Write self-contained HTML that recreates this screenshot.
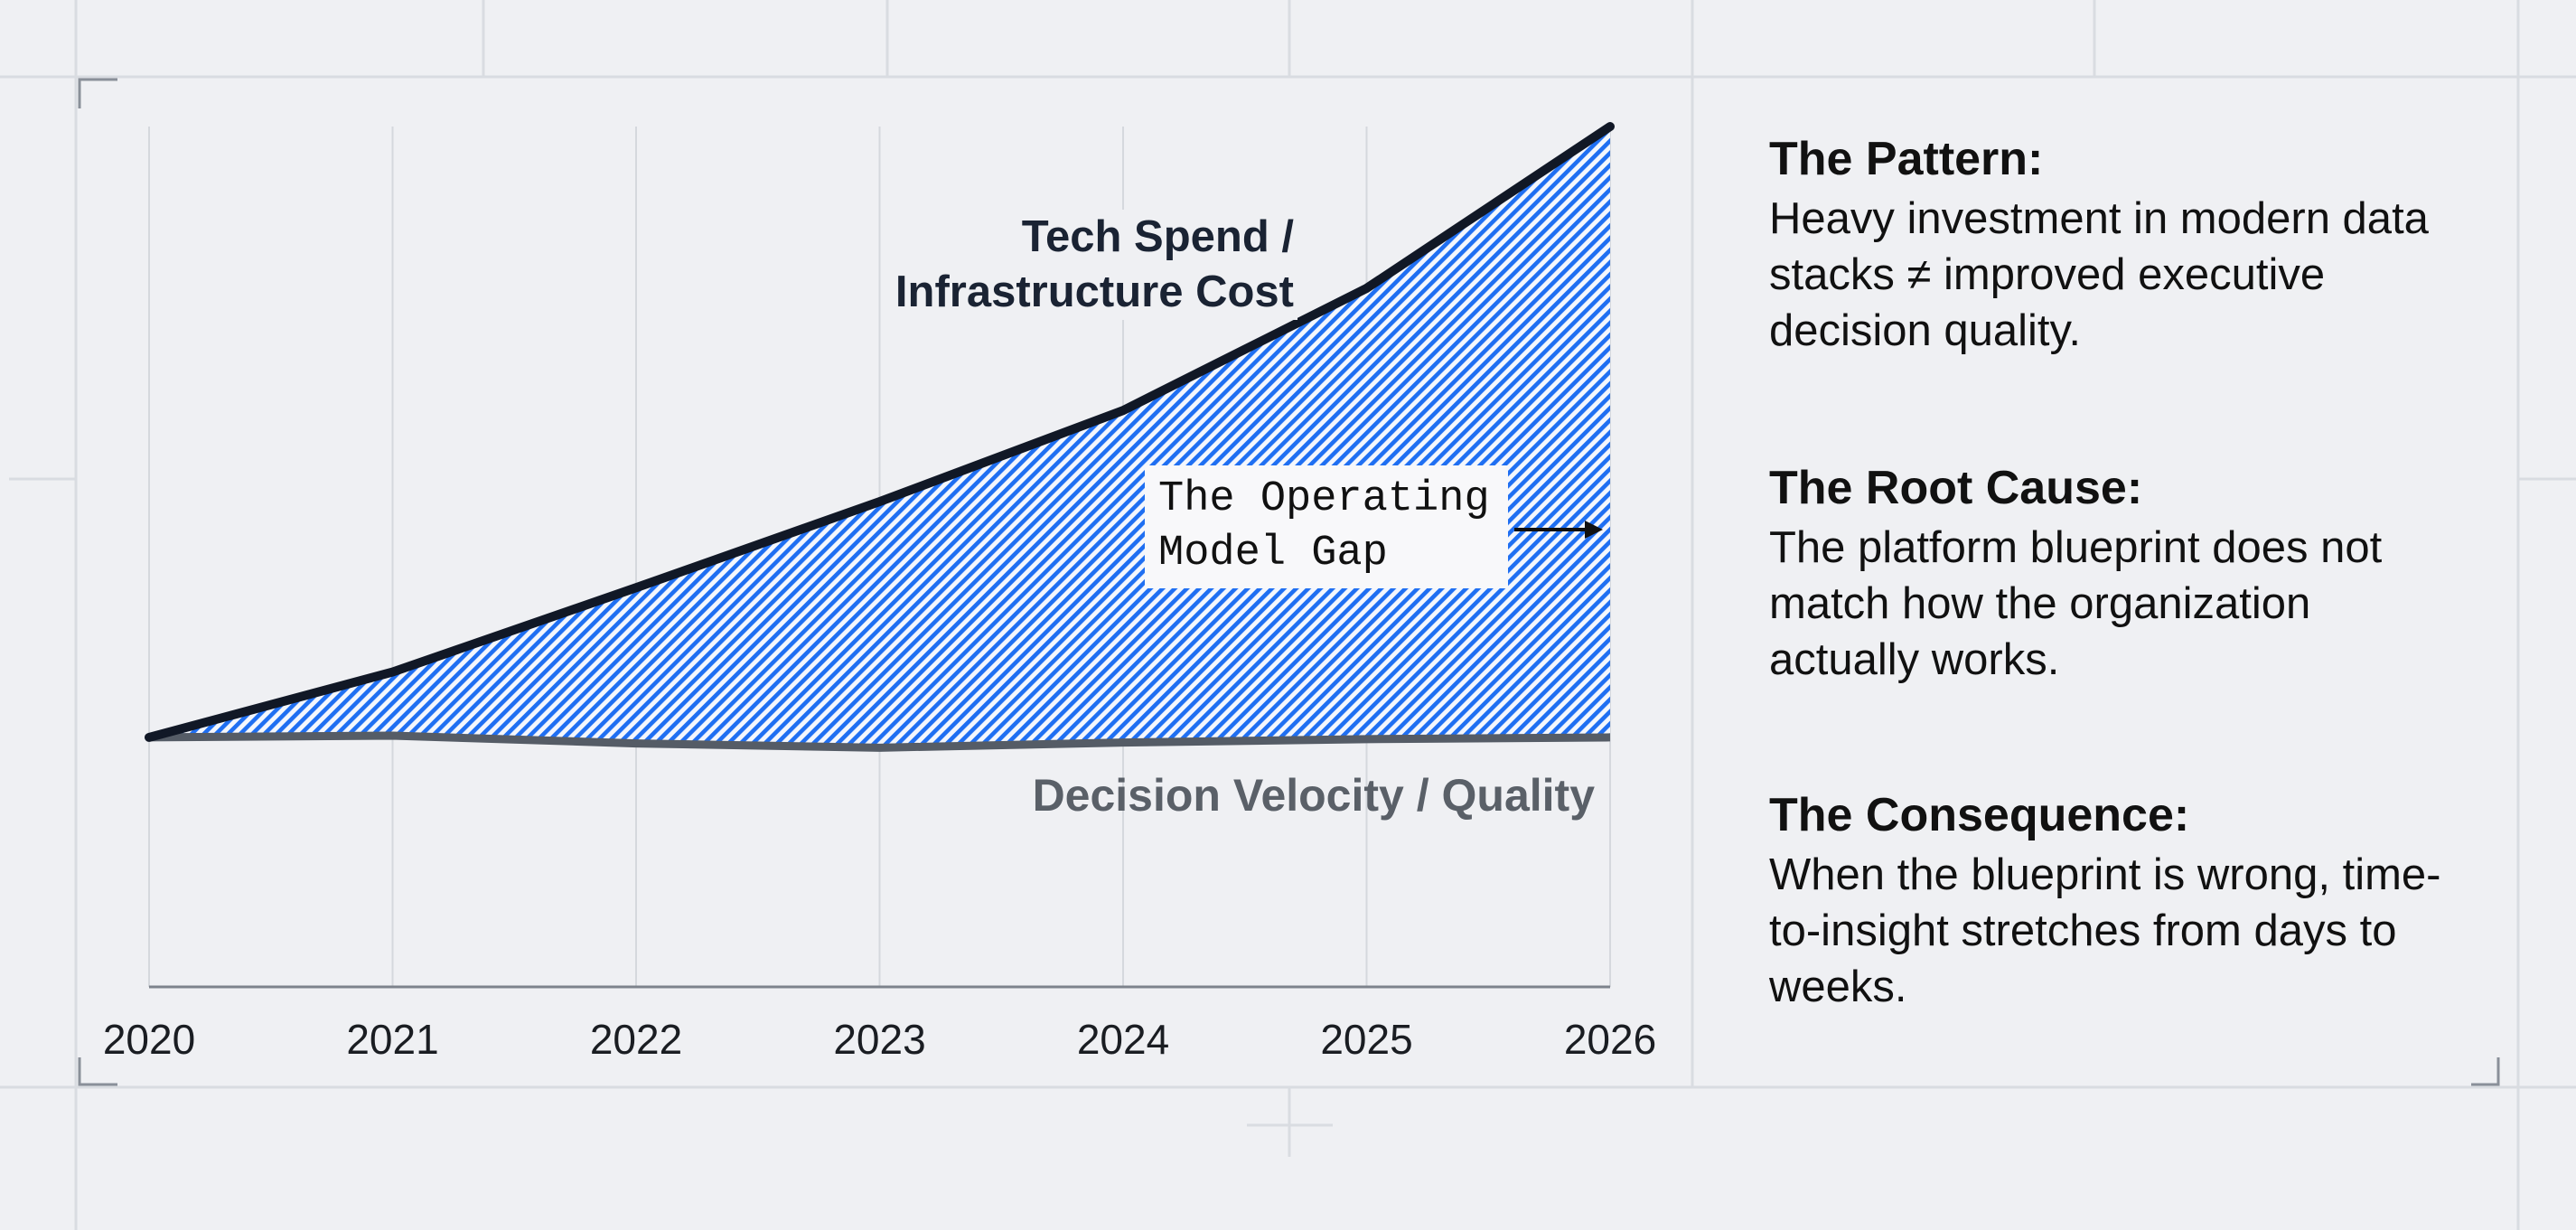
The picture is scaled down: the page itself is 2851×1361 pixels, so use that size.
<!DOCTYPE html>
<html><head><meta charset="utf-8"><style>
html,body{margin:0;padding:0;background:#eff0f3;}
body{width:2851px;height:1361px;position:relative;overflow:hidden;font-family:"Liberation Sans",sans-serif;}
.panel{position:absolute;left:1958px;color:#111;}
.h{position:absolute;font-weight:bold;font-size:52px;white-space:nowrap;line-height:62px;}
.t{position:absolute;font-size:49px;white-space:nowrap;line-height:62px;}
</style></head><body>
<svg id="chart" width="2851" height="1361" style="position:absolute;left:0;top:0">
<defs>
<pattern id="hatch" width="9.5" height="9.5" patternUnits="userSpaceOnUse" patternTransform="rotate(45)">
<rect width="9.5" height="9.5" fill="#f4f7fd"/>
<rect x="0" y="0" width="4.6" height="9.5" fill="#1f6ff2"/>
</pattern>
</defs>
<g stroke="#d9dce1" stroke-width="3" fill="none">
<line x1="0" y1="85" x2="2851" y2="85"/>
<line x1="0" y1="1203" x2="2851" y2="1203"/>
<line x1="84" y1="0" x2="84" y2="1361"/>
<line x1="2787" y1="0" x2="2787" y2="1361"/>
<line x1="535" y1="0" x2="535" y2="85"/>
<line x1="982" y1="0" x2="982" y2="85"/>
<line x1="1427" y1="0" x2="1427" y2="85"/>
<line x1="1873" y1="0" x2="1873" y2="1203"/>
<line x1="2318" y1="0" x2="2318" y2="85"/>
<line x1="10" y1="530" x2="84" y2="530"/>
<line x1="2787" y1="530" x2="2851" y2="530"/>
<line x1="1427" y1="1203" x2="1427" y2="1280"/>
<line x1="1380" y1="1245" x2="1475" y2="1245"/>
</g>
<g stroke="#8a9099" stroke-width="3" fill="none">
<polyline points="88,120 88,88 130,88"/>
<polyline points="88,1170 88,1200 130,1200"/>
<polyline points="2765,1170 2765,1200 2735,1200"/>
</g>
<g id="grid"></g>
<g id="marks"></g>
<g id="axis"></g>
</svg>

<div style="position:absolute;right:1415px;top:232px;text-align:right;font-weight:bold;font-size:49px;line-height:61px;color:#1a2333;background:#eff0f3;padding:0 4px">Tech Spend /<br>Infrastructure Cost</div>
<div style="position:absolute;right:1086px;top:850px;font-weight:bold;font-size:50px;line-height:60px;color:#5a6068;white-space:nowrap">Decision Velocity / Quality</div>

<div style="position:absolute;left:1267px;top:515px;width:402px;height:136px;background:#f8f8fa;font-family:'Liberation Mono',monospace;font-size:47px;line-height:60px;color:#111;box-sizing:border-box;padding:8px 0 0 15px;white-space:nowrap">The Operating<br>Model Gap</div>
<svg width="110" height="30" style="position:absolute;left:1674px;top:571px"><line x1="2" y1="15" x2="85" y2="15" stroke="#111" stroke-width="4"/><polygon points="80,5 100,15 80,25" fill="#111"/></svg>

<div class="panel" style="top:145px">
<div class="h" style="top:0">The Pattern:</div>
<div class="t" style="top:66px">Heavy investment in modern data<br>stacks ≠ improved executive<br>decision quality.</div>
</div>
<div class="panel" style="top:509px">
<div class="h" style="top:0">The Root Cause:</div>
<div class="t" style="top:66px">The platform blueprint does not<br>match how the organization<br>actually works.</div>
</div>
<div class="panel" style="top:871px">
<div class="h" style="top:0">The Consequence:</div>
<div class="t" style="top:66px">When the blueprint is wrong, time-<br>to-insight stretches from days to<br>weeks.</div>
</div>

<script>
const years = ["2020","2021","2022","2023","2024","2025","2026"];
const techSpend = [29, 36.6, 46.4, 56.4, 67, 81.2, 100];
const decisionVelocity = [29, 29.2, 28.3, 27.8, 28.4, 28.8, 29];
const NS = "http://www.w3.org/2000/svg";
const xs = i => 165 + i * (1782 - 165) / (years.length - 1);
const ys = v => 1092 - v * 9.52;
const gridG = document.getElementById('grid');
const marksG = document.getElementById('marks');
const axisG = document.getElementById('axis');
function mk(tag, attrs, parent){const e=document.createElementNS(NS,tag);for(const k in attrs)e.setAttribute(k,attrs[k]);parent.appendChild(e);return e;}
years.forEach((yr,i)=>{
  const g = mk('line',{x1:xs(i),y1:140,x2:xs(i),y2:1092,stroke:'#d5d8dd','stroke-width':2},gridG);
  
  
  const t = mk('text',{x:xs(i),y:1166,'text-anchor':'middle','font-size':46,fill:'#1a1d22','font-family':'Liberation Sans, sans-serif'},axisG);
  t.textContent = yr;
  
  
});
const al = mk('line',{x1:165,y1:1092,x2:1782,y2:1092,stroke:'#7d838c','stroke-width':3},axisG);


const topPts = techSpend.map((v,i)=>xs(i)+','+ys(v));
const botPts = decisionVelocity.map((v,i)=>xs(i)+','+ys(v)).reverse();
const area = mk('polygon',{points:topPts.concat(botPts).join(' '),fill:'url(#hatch)'},marksG);


const l2 = mk('polyline',{points:decisionVelocity.map((v,i)=>xs(i)+','+ys(v)).join(' '),fill:'none',stroke:'#555c66','stroke-width':9,'stroke-linejoin':'round'},marksG);


const l1 = mk('polyline',{points:topPts.join(' '),fill:'none',stroke:'#111826','stroke-width':10,'stroke-linejoin':'round','stroke-linecap':'round'},marksG);


</script>
</body></html>
